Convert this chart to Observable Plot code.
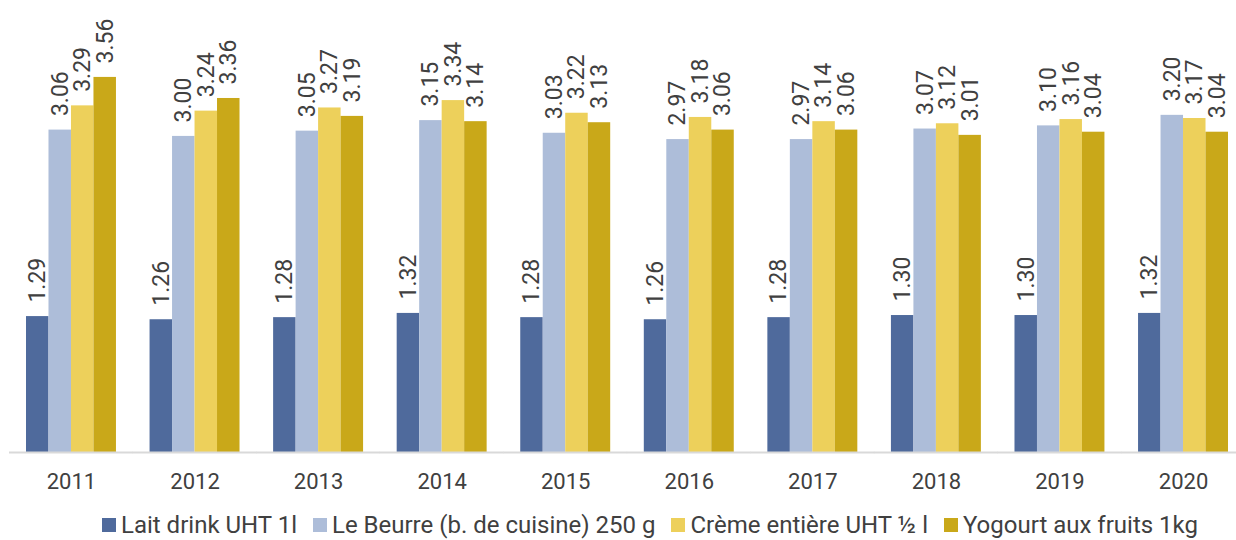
<!DOCTYPE html>
<html>
<head>
<meta charset="utf-8">
<script src="https://cdn.jsdelivr.net/npm/d3@7"></script>
<script src="https://cdn.jsdelivr.net/npm/@observablehq/plot@0.6"></script>
<style>
  html, body { margin: 0; padding: 0; background: #ffffff; }
  #chart { width: 1236px; height: 540px; overflow: hidden; }
  .lg-swatches { margin: 0 !important; }
  .lg-swatches-wrap { justify-content: flex-start; padding-left: 102px; min-height: 28px !important; height: 28px; line-height: 28px; }
  .lg-swatch { margin-right: 16px !important; line-height: 28px; }
  .lg-swatch > svg { margin-right: 5px !important; }
</style>
</head>
<body>
<div id="chart"></div>
<script>
const years = ["2011","2012","2013","2014","2015","2016","2017","2018","2019","2020"];
const seriesNames = ["Lait drink UHT 1l", "Le Beurre (b. de cuisine) 250 g", "Crème entière UHT ½ l", "Yogourt aux fruits 1kg"];
const lait    = [1.29, 1.26, 1.28, 1.32, 1.28, 1.26, 1.28, 1.30, 1.30, 1.32];
const beurre  = [3.06, 3.00, 3.05, 3.15, 3.03, 2.97, 2.97, 3.07, 3.10, 3.20];
const creme   = [3.29, 3.24, 3.27, 3.34, 3.22, 3.18, 3.14, 3.12, 3.16, 3.17];
const yogourt = [3.56, 3.36, 3.19, 3.14, 3.13, 3.06, 3.06, 3.01, 3.04, 3.04];
const colors  = ["#4f6a9c", "#adbdd9", "#edd05b", "#c9a819"];

const seriesValues = [lait, beurre, creme, yogourt];
const data = [];
years.forEach((yr, i) => {
  seriesNames.forEach((s, j) => data.push({year: yr, series: s, value: seriesValues[j][i]}));
});

const textColor = "#404040";
const chart = document.getElementById("chart");

const plot = Plot.plot({
  width: 1236,
  height: 511,
  marginTop: 0,
  marginBottom: 59,
  marginLeft: 26,
  marginRight: 8,
  style: {fontFamily: "Roboto, sans-serif", fontSize: "22px", color: textColor, background: "#ffffff"},
  fx: {domain: years, paddingInner: 0.272, paddingOuter: 0, round: false, label: null, tickSize: 0, tickPadding: 21},
  x: {domain: seriesNames, padding: 0, round: false, axis: null},
  y: {domain: [0, 4.29], axis: null},
  color: {domain: seriesNames, range: colors},
  marks: [
    Plot.barY(data, {fx: "year", x: "series", y: "value", fill: "series"}),
    Plot.ruleY([0], {stroke: "#d9d9d9", strokeWidth: 2, insetLeft: -17, insetRight: -17}),
    Plot.text(data, {
      fx: "year", x: "series", y: "value",
      text: d => d.value.toFixed(2),
      rotate: -90, textAnchor: "start", dy: -14,
      fill: textColor, fontSize: 23
    })
  ]
});
chart.appendChild(plot);

const legend = Plot.legend({
  color: {type: "ordinal", domain: seriesNames, range: colors},
  legend: "swatches",
  swatchSize: 14,
  className: "lg",
  style: {fontFamily: "Roboto, sans-serif", fontSize: "24px", color: textColor}
});
chart.appendChild(legend);
</script>
</body>
</html>
